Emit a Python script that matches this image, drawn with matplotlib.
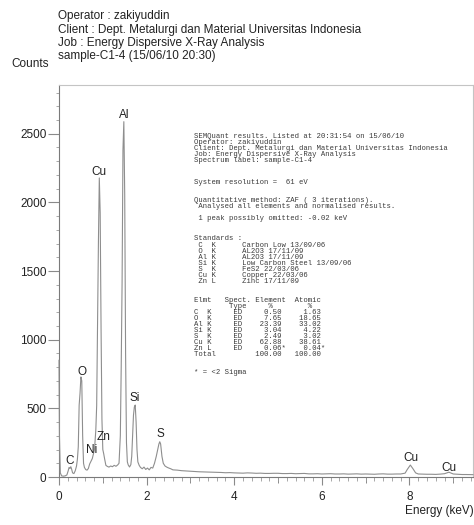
import matplotlib
matplotlib.use("Agg")
import matplotlib.pyplot as plt
from matplotlib.ticker import MultipleLocator

# ---------------- data ----------------
energy_keV = [0.00, 0.01, 0.03, 0.06, 0.10, 0.14, 0.18, 0.21, 0.23, 0.25, 0.27, 0.29, 0.31,
              0.34, 0.37, 0.40, 0.42, 0.44, 0.46, 0.48, 0.50, 0.52, 0.54, 0.56, 0.58, 0.61,
              0.64, 0.67, 0.70, 0.73, 0.76, 0.79, 0.81, 0.84, 0.86, 0.88, 0.90, 0.92, 0.94,
              0.96, 0.98, 1.00, 1.02, 1.04, 1.07, 1.10, 1.14, 1.18, 1.22, 1.26, 1.30, 1.34,
              1.37, 1.40, 1.42, 1.44, 1.46, 1.48, 1.50, 1.52, 1.54, 1.56, 1.58, 1.61, 1.64,
              1.66, 1.68, 1.70, 1.72, 1.74, 1.76, 1.78, 1.80, 1.83, 1.86, 1.90, 1.94, 1.98,
              2.02, 2.06, 2.10, 2.14, 2.18, 2.22, 2.25, 2.28, 2.30, 2.32, 2.35, 2.38, 2.42,
              2.46, 2.50, 2.55, 2.60, 2.70, 2.80, 2.90, 3.00, 3.10, 3.20, 3.30, 3.40, 3.50,
              3.60, 3.70, 3.80, 3.90, 4.00, 4.10, 4.20, 4.30, 4.40, 4.50, 4.60, 4.70, 4.80,
              4.90, 5.00, 5.10, 5.20, 5.30, 5.40, 5.50, 5.60, 5.70, 5.80, 5.90, 6.00, 6.10,
              6.20, 6.30, 6.40, 6.50, 6.60, 6.70, 6.80, 6.90, 7.00, 7.10, 7.20, 7.30, 7.40,
              7.50, 7.60, 7.70, 7.80, 7.90, 7.95, 8.02, 8.08, 8.14, 8.20, 8.30, 8.40, 8.50,
              8.60, 8.70, 8.80, 8.90, 9.00, 9.10, 9.20, 9.30, 9.45]
counts = [850, 300, 30, 8, 6, 8, 15, 45, 70, 62, 75, 55, 30,
          25, 45, 80, 130, 220, 523, 610, 729, 700, 300, 100, 70, 54,
          50, 62, 95, 115, 134, 175, 200, 340, 520, 1100, 1714, 2178, 1923,
          1085, 420, 200, 170, 134, 85, 78, 72, 80, 75, 85, 78, 88,
          100, 300, 800, 1413, 2382, 2588, 2054, 900, 250, 110, 88, 73, 90,
          150, 300, 450, 510, 524, 400, 200, 110, 85, 70, 60, 72, 55,
          65, 52, 70, 65, 100, 150, 195, 240, 257, 240, 150, 100, 80,
          72, 66, 60, 52, 50, 46, 44, 42, 40, 38, 37, 36, 35,
          34, 33, 31, 32, 30, 29, 28, 30, 29, 27, 28, 26, 26,
          27, 27, 25, 25, 26, 24, 25, 26, 23, 23, 24, 22, 23,
          24, 22, 22, 23, 21, 22, 23, 21, 22, 21, 20, 22, 23,
          21, 21, 22, 22, 28, 55, 87, 60, 30, 22, 21, 20, 20,
          19, 21, 24, 35, 22, 20, 18, 18, 17]

peak_labels = ["C", "O", "Ni", "Cu", "Zn", "Al", "Si", "S", "Cu", "Cu"]
label_keV = [0.25, 0.52, 0.75, 0.92, 1.01, 1.485, 1.735, 2.31, 8.03, 8.90]
label_counts = [114, 765, 195, 2223, 291, 2636, 574, 311, 136, 63]

header_lines = ["Operator : zakiyuddin",
                "Client : Dept. Metalurgi dan Material Universitas Indonesia",
                "Job : Energy Dispersive X-Ray Analysis",
                "sample-C1-4 (15/06/10 20:30)"]

report_head = ["SEMQuant results. Listed at 20:31:54 on 15/06/10",
               "Operator: zakiyuddin",
               "Client: Dept. Metalurgi dan Material Universitas Indonesia",
               "Job: Energy Dispersive X-Ray Analysis",
               "Spectrum label: sample-C1-4"]
report_res = ["System resolution =  61 eV"]
report_method = ["Quantitative method: ZAF ( 3 iterations).",
                 " Analysed all elements and normalised results."]
report_omit = [" 1 peak possibly omitted: -0.02 keV"]
std_elements = ["C  K", "O  K", "Al K", "Si K", "S  K", "Cu K", "Zn L"]
std_names = ["Carbon Low 13/09/06", "AL2O3 17/11/09", "AL2O3 17/11/09",
             "Low Carbon Steel 13/09/06", "FeS2 22/03/06", "Copper 22/03/06",
             "Zinc 17/11/09"]
elem_pct = ["0.50", "7.65", "23.39", "3.04", "2.49", "62.88", "0.06*"]
atomic_pct = ["1.63", "18.65", "33.02", "4.22", "3.02", "38.61", "0.04*"]
total_pct = ["100.00", "100.00"]

# ---------------- figure ----------------
W, H = 474, 525
fig = plt.figure(figsize=(W / 100, H / 100), dpi=100)
fig.patch.set_facecolor("white")
SANS = ["Liberation Sans", "DejaVu Sans"]
MONO = ["Liberation Mono", "DejaVu Sans Mono"]


def fpos(x, y):
    return x / W, 1 - y / H


ax = fig.add_axes([59 / W, 48 / H, 414 / W, 392 / H])
ax.plot(energy_keV, counts, color="#8e8e8e", lw=0.8, clip_on=False, zorder=3)
ax.set_xlim(0, 9.45)
ax.set_ylim(0, 2855)

for s in ["left", "bottom"]:
    ax.spines[s].set_color("#7a7a7a")
    ax.spines[s].set_linewidth(0.8)
for s in ["top", "right"]:
    ax.spines[s].set_color("#c4c4c4")
    ax.spines[s].set_linewidth(0.8)

ax.xaxis.set_major_locator(MultipleLocator(2))
ax.xaxis.set_minor_locator(MultipleLocator(0.2))
ax.yaxis.set_major_locator(MultipleLocator(500))
ax.yaxis.set_minor_locator(MultipleLocator(100))
ax.tick_params(axis="x", which="major", length=6, width=0.8, color="#8a8a8a",
               labelsize=8.5, pad=4, labelcolor="#222222")
ax.tick_params(axis="x", which="minor", length=3, width=0.6, color="#9a9a9a")
ax.tick_params(axis="y", which="major", length=8, width=0.8, color="#8a8a8a",
               labelsize=8.5, pad=1, labelcolor="#222222")
ax.tick_params(axis="y", which="minor", length=2, width=0.6, color="#9a9a9a")
for lab in ax.get_xticklabels() + ax.get_yticklabels():
    lab.set_family(SANS)

sec = ax.secondary_xaxis("bottom")
sec.set_xticks([1, 3, 5, 7, 9])
sec.set_xticklabels([])
sec.tick_params(length=4.5, width=0.7, color="#8a8a8a")
sec.spines["bottom"].set_visible(False)

for lab, ex, cy in zip(peak_labels, label_keV, label_counts):
    ax.text(ex, cy, lab, ha="center", va="center", fontsize=8.5,
            family=SANS, color="#222222", zorder=4)

ax.text(1.003, -0.088, "Energy (keV)", transform=ax.transAxes, ha="right",
        va="center", fontsize=8.5, family=SANS, color="#222222")

# header
for i, line in enumerate(header_lines):
    x, y = fpos(58, 16 + i * 13.5)
    fig.text(x, y, line, ha="left", va="center", fontsize=8.5, family=SANS,
             color="#222222")
x, y = fpos(11, 64)
fig.text(x, y, "Counts", ha="left", va="center", fontsize=8.5, family=SANS,
         color="#222222")

# report block
lines = []
ys = []
y0 = 137
for i, l in enumerate(report_head):
    lines.append(l); ys.append(y0 + i * 5.8)
lines += report_res; ys.append(183)
for i, l in enumerate(report_method):
    lines.append(l); ys.append(200 + i * 6)
lines += report_omit; ys.append(219)
lines.append("Standards :"); ys.append(239)
for i, (e, n) in enumerate(zip(std_elements, std_names)):
    lines.append(" " + e + "      " + n); ys.append(245.2 + i * 6.1)
lines.append("Elmt   Spect. Element  Atomic"); ys.append(301)
lines.append("        Type     %        %"); ys.append(307)
for i, (e, p, a) in enumerate(zip(std_elements, elem_pct, atomic_pct)):
    pp = p if p.endswith("*") else p + " "
    aa = a if a.endswith("*") else a + " "
    row = "{:<9}{:<4}{:>8}{:>9}".format(e, "ED", pp, aa)
    lines.append(row); ys.append(313 + i * 6)
lines.append("{:<13}{:>7} {:>8}".format("Total", total_pct[0], total_pct[1])); ys.append(313 + 7 * 6)
lines.append("* = <2 Sigma"); ys.append(373)

for l, yy in zip(lines, ys):
    x, y = fpos(194, yy)
    fig.text(x, y, l, ha="left", va="center", fontsize=5.2, family=MONO,
             color="#3a3a3a")

fig.savefig("out.png", dpi=100, facecolor="white")
